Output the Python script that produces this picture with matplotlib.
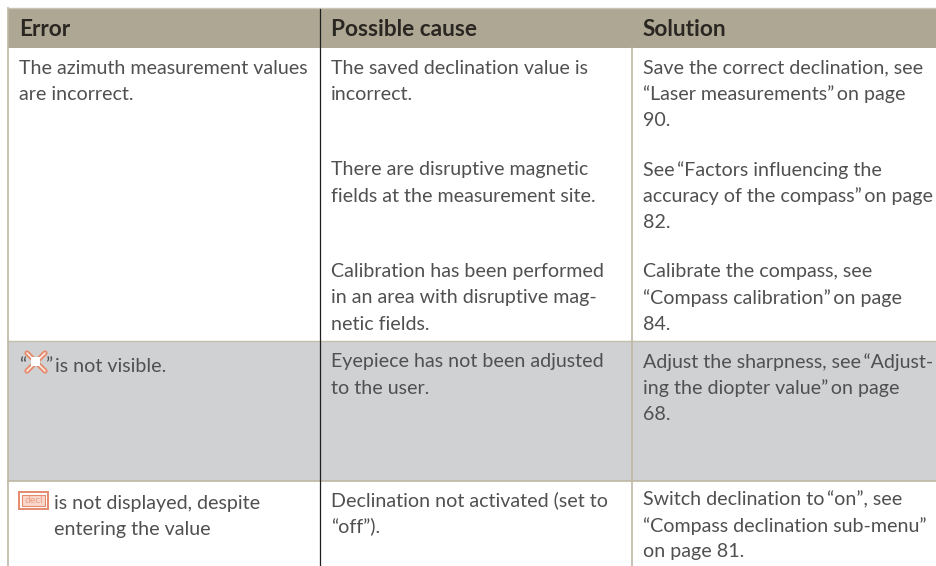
import matplotlib
matplotlib.use('Agg')
import matplotlib.pyplot as plt
from matplotlib.patches import Rectangle

W, H = 937, 566

headers = ['Error', 'Possible cause', 'Solution']
header_x = [19, 331, 643]

# (x, first line centre y, lines)
error_cells = [
    (19, 68, ['The azimuth measurement values', 'are incorrect.']),
    (55, 366, ['is not visible.']),
    (54, 503, ['is not displayed, despite', 'entering the value']),
]
cause_cells = [
    (331, 68, ['The saved declination value is', 'incorrect.']),
    (331, 170, ['There are disruptive magnetic', 'fields at the measurement site.']),
    (331, 272, ['Calibration has been performed', 'in an area with disruptive mag-', 'netic fields.']),
    (331, 362, ['Eyepiece has not been adjusted', 'to the user.']),
    (331, 500, ['Declination not activated (set to', '\u201coff\u201d).']),
]
solution_cells = [
    (643, 68, ['Save the correct declination, see', '\u201cLaser measurements\u201d\u2009on page', '90.']),
    (643, 170, ['See\u2009\u201cFactors influencing the', 'accuracy of the compass\u201d\u2009on page', '82.']),
    (643, 272, ['Calibrate the compass, see', '\u201cCompass calibration\u201d\u2009on page', '84.']),
    (643, 362, ['Adjust the sharpness, see\u2009\u201cAdjust-', 'ing the diopter value\u201d\u2009on page', '68.']),
    (643, 500, ['Switch declination to\u2009\u201con\u201d, see', '\u201cCompass declination sub-menu\u201d', 'on page 81.']),
]

TAN = '#aea793'
GREY = '#d0d1d3'
TXT = '#505050'
ORANGE = '#e58a6c'
FS = 14.1
LEAD = 26.0

plt.rcParams['font.family'] = ['Lato', 'DejaVu Sans']

fig = plt.figure(figsize=(W / 100, H / 100), dpi=100)
ax = fig.add_axes([0, 0, 1, 1])
ax.set_xlim(0, W)
ax.set_ylim(H, 0)
ax.axis('off')

# bands
ax.add_patch(Rectangle((8, 8), W - 8, 40, fc=TAN, ec='none', zorder=1))
ax.add_patch(Rectangle((8, 341), W - 8, 140, fc=GREY, ec='none', zorder=1))

# rules
ax.plot([8, W], [7.5, 7.5], color='#c9c4b5', lw=1, zorder=2)
ax.plot([8, W], [340.5, 340.5], color='#c4bfae', lw=1, zorder=2)
ax.plot([8, W], [481, 481], color='#bdb7a4', lw=1.2, zorder=2)
ax.plot([8.5, 8.5], [8, H], color='#bdb7a4', lw=1.2, zorder=2)
ax.plot([320.5, 320.5], [9, H], color='#1f1f1f', lw=0.9, zorder=3)
ax.plot([632.5, 632.5], [48, H], color='#bdb7a4', lw=1.2, zorder=2)

for x, h in zip(header_x, headers):
    ax.text(x, 29, h, fontsize=16.3, fontweight='bold', color='#2a2622', va='center', ha='left', zorder=4)

for x, y, lines in error_cells + cause_cells + solution_cells:
    for i, line in enumerate(lines):
        ax.text(x, y + i * LEAD, line, fontsize=FS, color=TXT, va='center', ha='left', zorder=4)

# reticle symbol between quotes
ax.text(19, 366, '\u201c', fontsize=FS, color=TXT, va='center', ha='left', zorder=4)
ax.text(46, 366, '\u201d', fontsize=FS, color=TXT, va='center', ha='left', zorder=4)
for x0, y0, x1, y1 in [(27, 353, 45, 371), (27, 371, 45, 353)]:
    ax.plot([x0, x1], [y0, y1], color=ORANGE, lw=3.8, solid_capstyle='round', zorder=4)
    ax.plot([x0, x1], [y0, y1], color='#fbe9e2', lw=1.2, solid_capstyle='round', zorder=5)
ax.add_patch(Rectangle((31.5, 357), 9, 9, fc='white', ec='none', zorder=6))

# decl symbol
ax.add_patch(Rectangle((19.5, 492), 29, 17, fc='white', ec=ORANGE, lw=1.4, zorder=4))
ax.add_patch(Rectangle((22.5, 495), 23, 11, fc='#f8d8cc', ec=ORANGE, lw=0.8, zorder=4))
ax.text(34, 500.5, 'decl', fontsize=7.5, color='#ef9f85', va='center', ha='center', zorder=5)

fig.savefig('out.png', dpi=100)
